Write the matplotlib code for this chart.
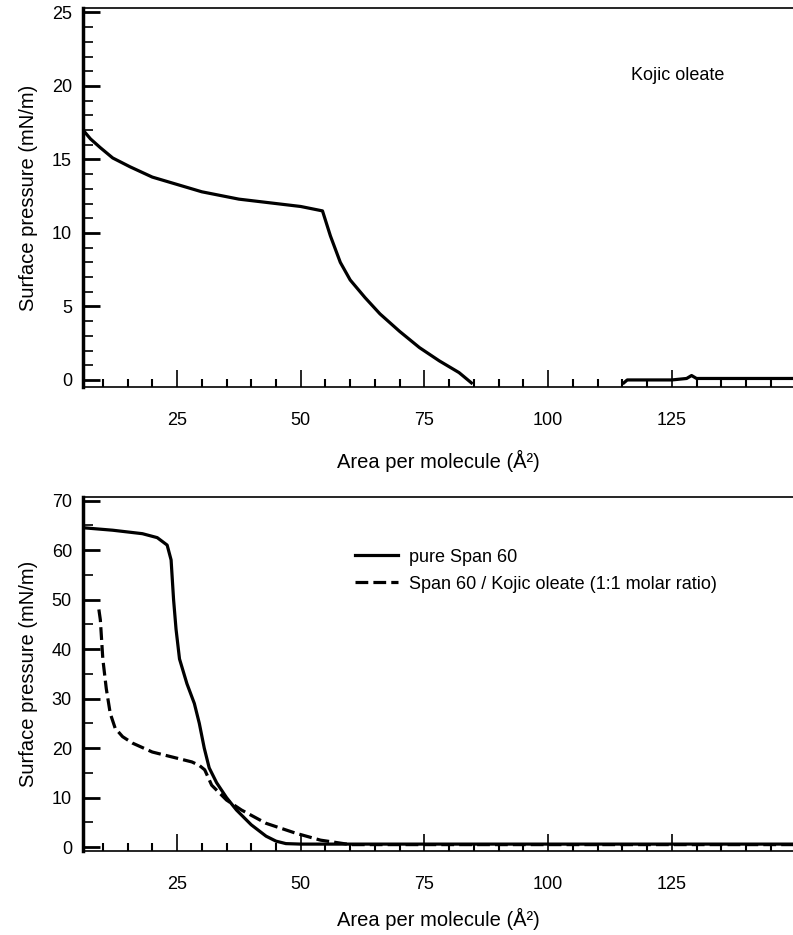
import matplotlib
matplotlib.use("Agg")
import matplotlib.pyplot as plt
from matplotlib.ticker import MultipleLocator

plt.rcParams["font.family"] = ["Liberation Sans", "DejaVu Sans"]

# top panel: Kojic oleate isotherm
kojic_area = [6.0, 7.5, 9.5, 12, 15.5, 20, 25, 30, 37.5, 45, 50, 54.4, 56, 58, 60, 63, 66, 70, 74, 78, 82, 84.5]
kojic_pi = [17.0, 16.4, 15.8, 15.1, 14.5, 13.8, 13.3, 12.8, 12.3, 12.0, 11.8, 11.5, 9.8, 8.0, 6.8, 5.6, 4.5, 3.3, 2.2, 1.3, 0.5, -0.2]
kojic_tail_area = [115.3, 116, 125, 128, 129, 130, 131, 140, 150]
kojic_tail_pi = [-0.2, 0.0, 0.0, 0.1, 0.3, 0.1, 0.1, 0.1, 0.1]

# bottom panel: pure Span 60 and the 1:1 mixture
span_area = [6, 12, 18, 21, 23, 23.8, 24.3, 24.8, 25.5, 27, 28.5, 29.5, 30.5, 31.5, 33, 35, 37, 40, 43, 45, 47, 50, 150]
span_pi = [64.5, 64.0, 63.3, 62.5, 61.0, 58.0, 50.0, 44.0, 38.0, 33.0, 29.0, 25.0, 20.0, 16.0, 13.0, 10.0, 7.5, 4.5, 2.2, 1.2, 0.7, 0.6, 0.6]
mix_area = [9.2, 9.5, 10.0, 10.7, 11.5, 12.5, 14, 16, 20, 24, 28, 29.5, 30.6, 32, 35, 38, 43, 49, 54, 58, 60, 150]
mix_pi = [48.0, 45.9, 38.0, 32.0, 27.0, 24.0, 22.3, 21.0, 19.2, 18.2, 17.2, 16.5, 15.6, 12.5, 9.5, 7.5, 4.8, 2.8, 1.4, 0.8, 0.5, 0.5]

x_ticks = [25, 50, 75, 100, 125]
x_label = "Area per molecule (Å²)"
y_label = "Surface pressure (mN/m)"

fig = plt.figure(figsize=(7.93, 9.35), dpi=100)
ax1 = fig.add_axes([0.1047, 0.5861, 0.8953, 0.4053])
ax2 = fig.add_axes([0.1047, 0.0898, 0.8953, 0.3786])

ax1.plot(kojic_area, kojic_pi, color="black", lw=2.3)
ax1.plot(kojic_tail_area, kojic_tail_pi, color="black", lw=2.3)
ax1.text(116.7, 20.7, "Kojic oleate", fontsize=13, va="center", ha="left")
ax1.set_ylim(-0.48, 25.3)
ax1.yaxis.set_major_locator(MultipleLocator(5))
ax1.yaxis.set_minor_locator(MultipleLocator(1))

ax2.plot(span_area, span_pi, color="black", lw=2.3, label="pure Span 60")
ax2.plot(mix_area, mix_pi, color="black", lw=2.3, dashes=(4, 1.6),
         label="Span 60 / Kojic oleate (1:1 molar ratio)")
ax2.set_ylim(-0.8, 70.7)
ax2.yaxis.set_major_locator(MultipleLocator(10))
ax2.yaxis.set_minor_locator(MultipleLocator(5))
ax2.legend(loc="upper left", bbox_to_anchor=(0.36, 0.9), frameon=False,
           fontsize=13, handlelength=2.4, labelspacing=0.55, handletextpad=0.6)

for ax, pad in ((ax1, 15), (ax2, 11)):
    ax.set_xlim(6, 149.5)
    ax.set_xticks(x_ticks)
    ax.xaxis.set_minor_locator(MultipleLocator(5))
    ax.spines["right"].set_visible(False)
    ax.spines["left"].set_linewidth(2.5)
    ax.spines["bottom"].set_linewidth(1.2)
    ax.spines["top"].set_linewidth(1.2)
    ax.tick_params(axis="both", which="both", direction="in", labelsize=13)
    ax.tick_params(axis="y", which="major", length=12, width=2, pad=8)
    ax.tick_params(axis="y", which="minor", length=7, width=1.2)
    ax.tick_params(axis="x", which="major", length=12, width=1.2, pad=18)
    ax.tick_params(axis="x", which="minor", length=6, width=1.5)
    ax.set_xlabel(x_label, fontsize=14.5, labelpad=pad)
    ax.set_ylabel(y_label, fontsize=14.5, labelpad=10)

fig.savefig("out.png", dpi=100)
